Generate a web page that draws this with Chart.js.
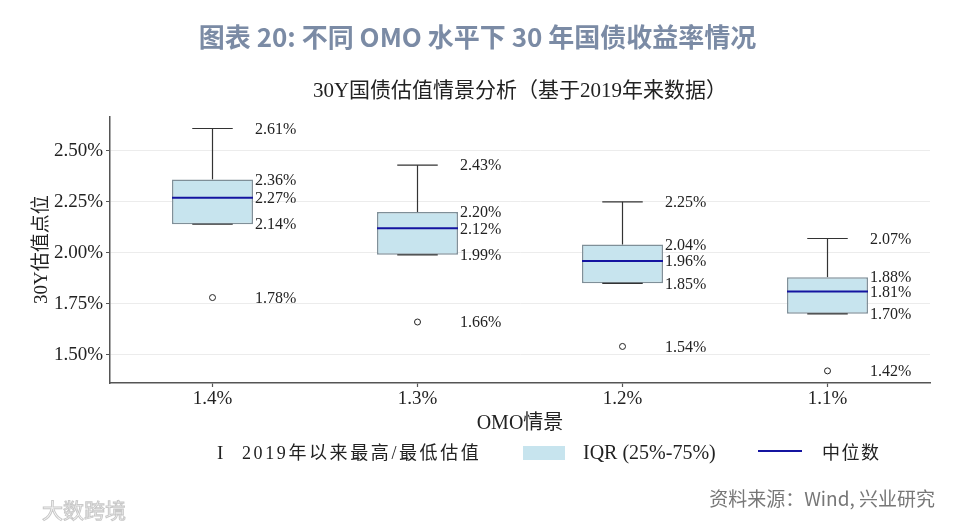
<!DOCTYPE html>
<html>
<head>
<meta charset="utf-8">
<script src="https://cdn.jsdelivr.net/npm/chart.js@4.4.1/dist/chart.umd.min.js"></script>
<style>
  body { margin: 0; background: #fff; }
  #wrap { position: relative; width: 959px; height: 526px; }
  .lg { position: absolute; font-family: "Liberation Serif", "Noto Sans CJK SC", serif; font-size: 18px; color: #222; line-height: 22px; white-space: nowrap; }
  #src { position: absolute; right: 24px; top: 484px; font-family: "Noto Sans CJK SC", sans-serif; font-size: 19px; color: #777; }
  #wm { position: absolute; left: 42px; top: 494px; font-family: "Noto Sans CJK SC", sans-serif; font-size: 21px; color: transparent; -webkit-text-stroke: 1px #c8c8c8; }
</style>
</head>
<body>
<div id="wrap">
  <canvas id="boxChart"></canvas>
  <div class="lg" style="left:217px; top:442px; font-size:19px;">I</div>
  <div class="lg" style="left:242px; top:442px; letter-spacing:2.6px;">2019年以来最高/最低估值</div>
  <div style="position:absolute; left:523px; top:446px; width:42px; height:14px; background:#c7e4ee;"></div>
  <div class="lg" style="left:583px; top:441px; font-size:20px;">IQR (25%-75%)</div>
  <div style="position:absolute; left:758px; top:450px; width:44px; height:2px; background:#1414a0;"></div>
  <div class="lg" style="left:822px; top:442px; letter-spacing:1.5px;">中位数</div>
  <div id="src">资料来源：Wind, 兴业研究</div>
  <div id="wm">大数跨境</div>
</div>
<script>
const scenarios = ["1.4%", "1.3%", "1.2%", "1.1%"];
const maxVals = [2.61, 2.43, 2.25, 2.07];
const q3Vals = [2.36, 2.20, 2.04, 1.88];
const medianVals = [2.27, 2.12, 1.96, 1.81];
const q1Vals = [2.14, 1.99, 1.85, 1.70];
const minVals = [2.14, 1.99, 1.85, 1.70];
const outlierVals = [1.78, 1.66, 1.54, 1.42];
const yTicks = [1.50, 1.75, 2.00, 2.25, 2.50];

const serif = "'Liberation Serif', 'Noto Sans CJK SC', serif";
const pct = v => v.toFixed(2) + "%";

// whiskers, caps, medians and value labels drawn on top of the bar boxes
const boxPlugin = {
  id: "boxExtras",
  beforeDatasetsDraw(chart) {
    const ctx = chart.ctx;
    const y = chart.scales.y;
    const bars = chart.getDatasetMeta(0).data;
    ctx.save();
    ctx.strokeStyle = "#333";
    ctx.lineWidth = 1.2;
    bars.forEach((bar, i) => {
      ctx.beginPath();
      ctx.moveTo(bar.x, y.getPixelForValue(maxVals[i]));
      ctx.lineTo(bar.x, y.getPixelForValue(q3Vals[i]));
      ctx.moveTo(bar.x, y.getPixelForValue(minVals[i]));
      ctx.lineTo(bar.x, y.getPixelForValue(q1Vals[i]));
      ctx.stroke();
    });
    ctx.restore();
  },
  afterDatasetsDraw(chart) {
    const ctx = chart.ctx;
    const y = chart.scales.y;
    const bars = chart.getDatasetMeta(0).data;
    ctx.save();
    bars.forEach((bar, i) => {
      const half = bar.width / 2;
      // caps
      ctx.strokeStyle = "#333";
      ctx.lineWidth = 1.2;
      ctx.beginPath();
      [maxVals[i], minVals[i]].forEach(v => {
        const py = y.getPixelForValue(v);
        ctx.moveTo(bar.x - half / 2, py);
        ctx.lineTo(bar.x + half / 2, py);
      });
      ctx.stroke();
      // median
      ctx.strokeStyle = "#1414a0";
      ctx.lineWidth = 2;
      ctx.beginPath();
      const my = y.getPixelForValue(medianVals[i]);
      ctx.moveTo(bar.x - half, my);
      ctx.lineTo(bar.x + half, my);
      ctx.stroke();
      // labels
      ctx.fillStyle = "#222";
      ctx.font = "16px " + serif;
      ctx.textAlign = "left";
      ctx.textBaseline = "middle";
      const lx = bar.x + half + 2;
      [maxVals[i], q3Vals[i], medianVals[i], q1Vals[i], outlierVals[i]].forEach(v => {
        ctx.fillText(pct(v), lx, y.getPixelForValue(v) + 1);
      });
    });
    ctx.restore();
  }
};

new Chart(document.getElementById("boxChart"), {
  type: "bar",
  data: {
    labels: scenarios,
    datasets: [{
      label: "IQR (25%-75%)",
      data: q1Vals.map((v, i) => [v, q3Vals[i]]),
      backgroundColor: "#c7e4ee",
      borderColor: "#7f8f98",
      borderWidth: 1.5,
      borderSkipped: false,
      barPercentage: 0.395,
      categoryPercentage: 1
    }, {
      type: "line",
      label: "outliers",
      data: outlierVals,
      showLine: false,
      pointRadius: 3,
      pointBackgroundColor: "#fff",
      pointBorderColor: "#222",
      pointBorderWidth: 1
    }]
  },
  options: {
    responsive: true,
    maintainAspectRatio: false,
    animation: false,
    layout: { padding: { left: 25, right: 29, top: 0, bottom: 90 } },
    plugins: {
      legend: { display: false },
      tooltip: { enabled: false },
      title: {
        display: true,
        text: "图表 20: 不同 OMO 水平下 30 年国债收益率情况",
        color: "#7b8ba5",
        font: { family: "'Noto Sans CJK SC', sans-serif", size: 26, weight: "bold", lineHeight: 1.2 },
        padding: { top: 22, bottom: 26 }
      },
      subtitle: {
        display: true,
        fullSize: false,
        text: "30Y国债估值情景分析（基于2019年来数据）",
        color: "#222",
        font: { family: serif, size: 21, lineHeight: 1.2 },
        padding: { top: 0, bottom: 12 }
      }
    },
    scales: {
      x: {
        offset: true,
        grid: { display: true, offset: false, drawOnChartArea: false, drawTicks: true, tickLength: 4, tickWidth: 1.2, tickColor: "#555" },
        border: { display: true, color: "#555", width: 1.5 },
        ticks: { color: "#222", font: { family: serif, size: 19 }, padding: 1 },
        title: { display: true, text: "OMO情景", color: "#222", font: { family: serif, size: 20, lineHeight: 1.2 }, padding: { top: 0, bottom: 0 } },
        afterFit(scale) { scale.height = 53; }
      },
      y: {
        min: 1.3605,
        max: 2.6695,
        grid: { color: "#ececec", lineWidth: 1, drawTicks: true, tickLength: 4, tickColor: "#555" },
        border: { display: true, color: "#555", width: 1.5 },
        afterBuildTicks(scale) { scale.ticks = yTicks.map(v => ({ value: v })); },
        ticks: { color: "#222", font: { family: serif, size: 19 }, padding: 3, callback: v => pct(v) },
        title: { display: true, text: "30Y估值点位", color: "#222", font: { family: serif, size: 19, lineHeight: 1.2 }, padding: { top: 6, bottom: 0 } },
        afterFit(scale) { scale.width = 85; }
      }
    }
  },
  plugins: [boxPlugin]
});
</script>
</body>
</html>
